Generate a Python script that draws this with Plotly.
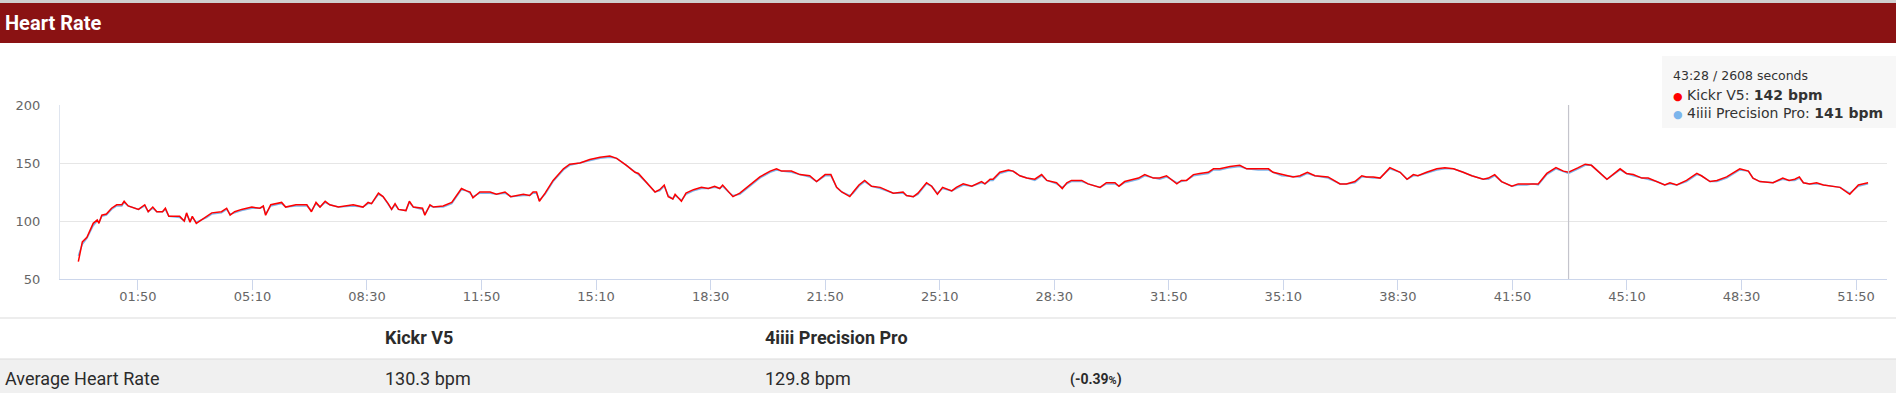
import plotly.graph_objects as go

# ---------------- data ----------------
time_s = [
    6, 13, 21, 32, 39, 42, 47, 55, 64, 73,
    82, 86, 93, 111, 122, 128, 136, 143, 153, 158,
    164, 183, 191, 195, 201, 205, 212, 221, 230, 239,
    256, 265, 271, 279, 291, 309, 323, 329, 333, 342,
    361, 368, 386, 405, 413, 421, 428, 437, 445, 460,
    486, 503, 512, 518, 530, 538, 547, 553, 559, 565,
    578, 584, 591, 607, 611, 620, 626, 643, 658, 675,
    684, 690, 695, 707, 725, 736, 751, 761, 783, 794,
    800, 806, 811, 821, 835, 853, 864, 882, 899, 917,
    934, 946, 963, 978, 984, 998, 1013, 1021, 1029, 1036,
    1044, 1048, 1059, 1067, 1080, 1094, 1106, 1117, 1126, 1131,
    1141, 1149, 1161, 1176, 1196, 1214, 1225, 1234, 1251, 1266,
    1283, 1295, 1310, 1320, 1330, 1339, 1353, 1359, 1369, 1379,
    1391, 1406, 1429, 1446, 1452, 1464, 1472, 1487, 1496, 1506,
    1515, 1531, 1539, 1551, 1566, 1583, 1589, 1598, 1603, 1615,
    1630, 1638, 1650, 1662, 1676, 1688, 1697, 1714, 1724, 1732,
    1740, 1758, 1769, 1790, 1801, 1816, 1823, 1833, 1857, 1868,
    1883, 1894, 1906, 1924, 1932, 1941, 1953, 1964, 1979, 1988,
    1999, 2017, 2034, 2046, 2066, 2084, 2092, 2107, 2127, 2139,
    2152, 2165, 2188, 2209, 2220, 2235, 2247, 2255, 2267, 2279,
    2296, 2314, 2326, 2337, 2345, 2360, 2378, 2392, 2407, 2424,
    2439, 2459, 2468, 2479, 2491, 2509, 2520, 2535, 2546, 2555,
    2570, 2586, 2599, 2608, 2625, 2637, 2648, 2663, 2675, 2698,
    2709, 2721, 2736, 2747, 2762, 2776, 2785, 2797, 2814, 2832,
    2840, 2855, 2867, 2884, 2907, 2922, 2930, 2942, 2965, 2982,
    2993, 3003, 3011, 3018, 3029, 3041, 3053, 3070, 3082, 3099,
    3114, 3131,
]

kickr_bpm = [
    65, 82, 86, 98, 101, 98, 105, 106, 111, 114,
    114, 117, 113, 110, 114, 108, 112, 108, 108, 111,
    104, 104, 100, 107, 99, 104, 98, 101, 104, 107,
    108, 111, 105, 108, 110, 112, 111, 113, 105, 114,
    116, 112, 114, 114, 108, 116, 112, 117, 114, 112,
    114, 112, 116, 115, 124, 121, 115, 110, 115, 110,
    109, 117, 112, 111, 105, 114, 112, 113, 116, 128,
    126, 125, 120, 125, 125, 123, 125, 121, 123, 122,
    125, 125, 117, 124, 135, 145, 149, 150, 153, 155,
    156, 154, 148, 142, 141, 133, 125, 127, 131, 121,
    119, 123, 117, 124, 127, 129, 128, 130, 128, 131,
    125, 121, 124, 130, 138, 143, 145, 143, 143, 140,
    139, 134, 140, 140, 129, 125, 121, 125, 131, 135,
    130, 129, 124, 125, 122, 121, 124, 133, 130, 123,
    129, 126, 129, 132, 130, 134, 132, 136, 136, 142,
    144, 143, 139, 137, 136, 140, 135, 133, 128, 133,
    135, 135, 132, 129, 133, 133, 130, 134, 137, 140,
    137, 137, 139, 132, 135, 135, 140, 141, 142, 145,
    145, 147, 148, 145, 145, 145, 142, 140, 138, 139,
    142, 139, 138, 132, 132, 134, 139, 138, 138, 137,
    146, 142, 136, 140, 139, 142, 145, 146, 145, 142,
    139, 136, 137, 140, 134, 130, 132, 132, 132, 132,
    141, 146, 143, 142, 146, 149, 148, 141, 136, 145,
    141, 140, 137, 137, 134, 131, 133, 131, 135, 141,
    139, 134, 135, 138, 145, 143, 137, 134, 133, 137,
    135, 136, 138, 133, 132, 133, 131, 130, 129, 123,
    131, 133,
]

precision_bpm = [
    70, 80, 85, 96, 100, 99, 104, 105, 110, 113,
    113, 116, 113, 110, 113, 108, 111, 108, 108, 110,
    104, 103, 100, 106, 100, 103, 99, 101, 103, 106,
    107, 110, 106, 107, 109, 111, 111, 112, 106, 113,
    115, 112, 113, 113, 109, 115, 112, 116, 114, 112,
    113, 112, 115, 115, 123, 121, 115, 110, 114, 110,
    109, 116, 112, 110, 106, 113, 112, 112, 115, 127,
    126, 124, 121, 124, 124, 123, 124, 121, 122, 122,
    124, 124, 118, 123, 134, 144, 148, 150, 152, 154,
    155, 154, 148, 142, 140, 133, 125, 126, 130, 122,
    119, 122, 118, 123, 126, 128, 128, 129, 128, 130,
    125, 122, 123, 129, 137, 142, 144, 143, 142, 140,
    138, 134, 139, 139, 129, 125, 122, 124, 130, 134,
    130, 128, 124, 124, 122, 121, 123, 132, 130, 124,
    128, 126, 128, 131, 130, 133, 132, 135, 135, 141,
    143, 143, 139, 137, 135, 139, 135, 132, 129, 132,
    134, 134, 132, 129, 132, 132, 130, 133, 136, 139,
    137, 136, 138, 133, 134, 135, 139, 140, 141, 144,
    144, 146, 147, 145, 144, 144, 142, 139, 138, 138,
    141, 139, 137, 132, 132, 133, 138, 138, 137, 137,
    145, 142, 136, 139, 139, 141, 144, 145, 145, 142,
    139, 136, 136, 139, 134, 130, 131, 131, 132, 131,
    140, 145, 143, 141, 145, 148, 148, 141, 136, 144,
    141, 139, 137, 136, 134, 131, 132, 131, 134, 140,
    139, 134, 134, 137, 144, 143, 137, 134, 133, 136,
    135, 135, 137, 133, 132, 132, 131, 130, 129, 124,
    130, 132,
]

tick_seconds = [110, 310, 510, 710, 910, 1110, 1310, 1510, 1710, 1910,
                2110, 2310, 2510, 2710, 2910, 3110]
tick_labels = ["01:50", "05:10", "08:30", "11:50", "15:10", "18:30", "21:50",
               "25:10", "28:30", "31:50", "35:10", "38:30", "41:50", "45:10",
               "48:30", "51:50"]
y_ticks = [50, 100, 150, 200]

device_names = ["Kickr V5", "4iiii Precision Pro"]
average_hr = [130.3, 129.8]
average_diff = "-0.39"

hover_seconds = 2608
hover_label = "43:28"
hover_values = [142, 141]

assert len(time_s) == len(kickr_bpm) == len(precision_bpm)

# ---------------- layout geometry (pixels) ----------------
W, H = 1896, 393
L, R, T, B = 60, 1887, 105, 279


def px(x):
    return (x - L) / (R - L)


def py(y):
    return (B - y) / (B - T)


RED = "#ff0000"
BLUE = "#7cb5ec"
TEXT = "#2b2b2b"

fig = go.Figure()
fig.add_trace(go.Scatter(x=time_s, y=precision_bpm, mode="lines",
                         line=dict(color=BLUE, width=1.5), name=device_names[1],
                         hoverinfo="skip"))
fig.add_trace(go.Scatter(x=time_s, y=kickr_bpm, mode="lines",
                         line=dict(color=RED, width=1.5), name=device_names[0],
                         hoverinfo="skip"))

shapes = [
    # top strip + header band
    dict(type="rect", xref="paper", yref="paper", x0=px(0), x1=px(W), y0=py(0), y1=py(3),
         fillcolor="#cfcfcf", line=dict(width=0), layer="above"),
    dict(type="rect", xref="paper", yref="paper", x0=px(0), x1=px(W), y0=py(3), y1=py(43),
         fillcolor="#8a1213", line=dict(width=0), layer="above"),
    # table
    dict(type="rect", xref="paper", yref="paper", x0=px(0), x1=px(W), y0=py(359), y1=py(H + 2),
         fillcolor="#f0f0f0", line=dict(width=0), layer="above"),
    dict(type="line", xref="paper", yref="paper", x0=px(0), x1=px(W), y0=py(318), y1=py(318),
         line=dict(color="#dcdcdc", width=1.2), layer="above"),
    dict(type="line", xref="paper", yref="paper", x0=px(0), x1=px(W), y0=py(359), y1=py(359),
         line=dict(color="#dcdcdc", width=1.2), layer="above"),
    # crosshair
    dict(type="line", xref="x", yref="y", x0=hover_seconds, x1=hover_seconds, y0=50, y1=200,
         line=dict(color="#c4c4cc", width=1.2), layer="above"),
    # tooltip box
    dict(type="rect", xref="paper", yref="paper", x0=px(1662), x1=px(W + 2), y0=py(128), y1=py(56),
         fillcolor="#f7f7f7", line=dict(width=0), layer="above"),
]

annotations = []


def add_text(text, x, y, size, family, color=TEXT, bold=False, xanchor="left"):
    annotations.append(dict(
        text=f"<b>{text}</b>" if bold else text,
        xref="paper", yref="paper", x=px(x), y=py(y),
        xanchor=xanchor, yanchor="middle", showarrow=False,
        font=dict(size=size, family=family, color=color), borderpad=0,
    ))


add_text("Heart Rate", 4, 23, 20, "Roboto", color="#ffffff", bold=True)

# table
add_text(device_names[0], 384, 337, 18, "Roboto", bold=True)
add_text(device_names[1], 764, 337, 18, "Roboto", bold=True)
add_text("Average Heart Rate", 4, 378, 18, "Roboto")
add_text(f"{average_hr[0]:.1f} bpm", 384, 378, 18, "Roboto")
add_text(f"{average_hr[1]:.1f} bpm", 764, 378, 18, "Roboto")
add_text(f"({average_diff}<span style='font-size:11px'>%</span>)", 1069, 379, 14, "Roboto", bold=True)

# tooltip
add_text(f"{hover_label} / {hover_seconds} seconds", 1672, 76, 12.5, "DejaVu Sans", color="#333333")
add_text(f"<span style='color:{RED};font-size:11px'>●</span> {device_names[0]}: <b>{hover_values[0]} bpm</b>",
         1672, 95, 14, "DejaVu Sans", color="#333333")
add_text(f"<span style='color:{BLUE};font-size:11px'>●</span> {device_names[1]}: <b>{hover_values[1]} bpm</b>",
         1672, 113, 14, "DejaVu Sans", color="#333333")

fig.update_layout(
    width=W, height=H,
    margin=dict(l=L, r=W - R, t=T, b=H - B, pad=0),
    paper_bgcolor="#ffffff", plot_bgcolor="#ffffff",
    showlegend=False,
    shapes=shapes, annotations=annotations,
    xaxis=dict(
        range=[-26, 3164], tickmode="array", tickvals=tick_seconds, ticktext=tick_labels,
        showgrid=False, zeroline=False,
        showline=True, linecolor="#ccd6eb", linewidth=1,
        ticks="outside", ticklen=10, tickcolor="#ccd6eb", tickwidth=1,
        ticklabelstandoff=-5,
        tickfont=dict(family="DejaVu Sans", size=13, color="#666666"),
    ),
    yaxis=dict(
        range=[50, 200], tickmode="array", tickvals=y_ticks,
        showgrid=True, gridcolor="#e6e6e6", gridwidth=1, zeroline=False,
        showline=True, linecolor="#dfe5ef", linewidth=1,
        ticks="", ticklabelstandoff=16,
        tickfont=dict(family="DejaVu Sans", size=13, color="#666666"),
    ),
)

fig.write_html("out.html", config={"displayModeBar": False})
